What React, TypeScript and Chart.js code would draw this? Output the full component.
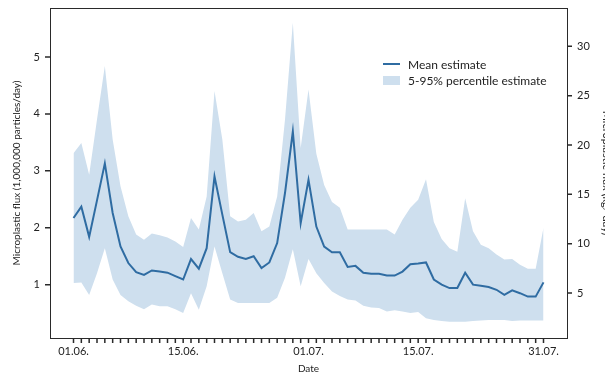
import React, { useEffect, useRef } from 'react';
import { Chart, registerables } from 'chart.js';

Chart.register(...registerables);

// Day index 0 = 01.06., 60 = 31.07.
const meanEstimate = [
  2.17, 2.37, 1.84, 2.48, 3.13, 2.26, 1.67, 1.38, 1.22, 1.17,
  1.25, 1.23, 1.21, 1.15, 1.09, 1.45, 1.28, 1.64, 2.90, 2.23,
  1.57, 1.49, 1.45, 1.50, 1.29, 1.39, 1.73, 2.61, 3.69, 2.08,
  2.84, 2.02, 1.67, 1.57, 1.57, 1.31, 1.33, 1.21, 1.19, 1.19,
  1.16, 1.16, 1.23, 1.36, 1.37, 1.39, 1.09, 1.00, 0.94, 0.94,
  1.21, 1.00, 0.98, 0.96, 0.91, 0.82, 0.90, 0.85, 0.79, 0.79,
  1.04,
];

const upper95 = [
  3.31, 3.49, 2.93, 3.90, 4.84, 3.55, 2.73, 2.20, 1.88, 1.79,
  1.90, 1.87, 1.83, 1.76, 1.66, 2.17, 1.97, 2.55, 4.40, 3.55,
  2.20, 2.11, 2.14, 2.26, 1.94, 2.02, 2.55, 3.90, 5.60, 3.40,
  4.43, 3.30, 2.75, 2.45, 2.35, 1.97, 1.97, 1.97, 1.97, 1.97,
  1.97, 1.88, 2.14, 2.35, 2.49, 2.85, 2.10, 1.80, 1.64, 1.58,
  2.52, 1.94, 1.70, 1.64, 1.53, 1.44, 1.45, 1.35, 1.28, 1.28,
  2.00,
];

const lower5 = [
  1.03, 1.04, 0.82, 1.20, 1.64, 1.09, 0.82, 0.71, 0.63, 0.57,
  0.65, 0.62, 0.62, 0.57, 0.50, 0.85, 0.56, 0.97, 1.67, 1.20,
  0.74, 0.68, 0.68, 0.68, 0.68, 0.68, 0.77, 1.12, 1.62, 0.97,
  1.45, 1.20, 1.03, 0.88, 0.80, 0.74, 0.72, 0.63, 0.60, 0.59,
  0.53, 0.55, 0.53, 0.50, 0.52, 0.41, 0.38, 0.36, 0.35, 0.35,
  0.35, 0.36, 0.37, 0.38, 0.38, 0.38, 0.36, 0.37, 0.37, 0.37,
  0.37,
];

const xTickDays = [0, 14, 30, 44, 60];
const xTickLabels = ['01.06.', '15.06.', '01.07.', '15.07.', '31.07.'];
const leftTicks = [1, 2, 3, 4, 5];
const rightTicks = [5, 10, 15, 20, 25, 30];
const legendLabels = ['Mean estimate', '5-95% percentile estimate'];

const FONT = 'Lato, "Open Sans", sans-serif';
const LINE_COLOR = 'rgb(47,108,162)';
const BAND_COLOR = 'rgb(206,223,238)';
const AXIS_COLOR = '#2a2a2a';
const TEXT_COLOR = '#222222';
const TICK_LEN = 5;

const legendPlugin = {
  id: 'customLegend',
  afterDraw(chart: any) {
    const { ctx, chartArea } = chart;
    const x0 = chartArea.right - 184;
    const y0 = chartArea.top + 56;
    ctx.save();
    ctx.strokeStyle = LINE_COLOR;
    ctx.lineWidth = 2;
    ctx.beginPath();
    ctx.moveTo(x0, y0);
    ctx.lineTo(x0 + 17, y0);
    ctx.stroke();
    ctx.fillStyle = BAND_COLOR;
    ctx.fillRect(x0, y0 + 12, 17, 9);
    ctx.fillStyle = TEXT_COLOR;
    ctx.font = `12px ${FONT}`;
    ctx.textBaseline = 'middle';
    ctx.textAlign = 'left';
    ctx.fillText(legendLabels[0], x0 + 25, y0 + 1);
    ctx.fillText(legendLabels[1], x0 + 25, y0 + 17);
    ctx.restore();
  },
};

// Outward tick marks drawn at each scale tick through the scales' own pixel mapping.
const tickMarksPlugin = {
  id: 'tickMarks',
  afterDraw(chart: any) {
    const { ctx, chartArea, scales } = chart;
    ctx.save();
    ctx.strokeStyle = AXIS_COLOR;
    ctx.lineWidth = 1.5;
    ctx.beginPath();
    const sx = scales.x;
    sx.ticks.forEach((t: any) => {
      const px = sx.getPixelForValue(t.value);
      ctx.moveTo(px, chartArea.bottom);
      ctx.lineTo(px, chartArea.bottom + TICK_LEN);
    });
    const sy = scales.y;
    sy.ticks.forEach((t: any) => {
      const py = sy.getPixelForValue(t.value);
      ctx.moveTo(chartArea.left - TICK_LEN, py);
      ctx.lineTo(chartArea.left, py);
    });
    const sy1 = scales.y1;
    sy1.ticks.forEach((t: any) => {
      const py = sy1.getPixelForValue(t.value);
      ctx.moveTo(chartArea.right, py);
      ctx.lineTo(chartArea.right + TICK_LEN, py);
    });
    ctx.stroke();
    ctx.restore();
  },
};

const noPad = (s: any) => {
  s.paddingTop = 0;
  s.paddingBottom = 0;
};

export default function App() {
  const ref = useRef<HTMLCanvasElement | null>(null);

  useEffect(() => {
    if (!ref.current) return;
    const toPts = (arr: number[]) => arr.map((v, i) => ({ x: i, y: v }));
    const font = { family: FONT, size: 11 };
    const tickGrid = {
      display: true,
      drawOnChartArea: false,
      drawTicks: true,
      tickLength: TICK_LEN,
      color: 'rgba(0,0,0,0)',
    };
    const chart = new Chart(ref.current, {
      type: 'line',
      data: {
        datasets: [
          {
            label: legendLabels[0],
            data: toPts(meanEstimate),
            borderColor: LINE_COLOR,
            borderWidth: 2,
            pointRadius: 0,
            fill: false,
            tension: 0,
            yAxisID: 'y',
            xAxisID: 'x',
          },
          {
            label: 'upper',
            data: toPts(upper95),
            borderWidth: 0,
            borderColor: 'rgba(0,0,0,0)',
            backgroundColor: BAND_COLOR,
            pointRadius: 0,
            fill: '+1',
            tension: 0,
            yAxisID: 'y',
            xAxisID: 'x',
          },
          {
            label: 'lower',
            data: toPts(lower5),
            borderWidth: 0,
            borderColor: 'rgba(0,0,0,0)',
            backgroundColor: BAND_COLOR,
            pointRadius: 0,
            fill: false,
            tension: 0,
            yAxisID: 'y',
            xAxisID: 'x',
          },
        ],
      },
      options: {
        animation: false,
        responsive: false,
        maintainAspectRatio: false,
        devicePixelRatio: 1,
        layout: { padding: 0 },
        plugins: {
          legend: { display: false },
          tooltip: { enabled: false },
        },
        scales: {
          x: {
            type: 'linear',
            position: 'bottom',
            min: -3,
            max: 63,
            afterBuildTicks: (s: any) => {
              s.ticks = meanEstimate.map((_, i) => ({ value: i }));
            },
            afterFit: (s: any) => {
              s.height = 38;
            },
            ticks: {
              autoSkip: false,
              maxRotation: 0,
              padding: 2,
              color: TEXT_COLOR,
              font,
              callback: (v: any) => {
                const k = xTickDays.indexOf(Number(v));
                return k >= 0 ? xTickLabels[k] : '';
              },
            },
            grid: tickGrid,
            border: { display: true, color: AXIS_COLOR, width: 1 },
            title: {
              display: true,
              text: 'Date',
              color: TEXT_COLOR,
              font: { family: FONT, size: 10 },
              padding: { top: 0, bottom: 1 },
            },
          },
          xTop: {
            type: 'linear',
            position: 'top',
            min: -3,
            max: 63,
            afterFit: (s: any) => {
              s.height = 8;
            },
            ticks: { display: false },
            grid: { display: false },
            border: { display: true, color: AXIS_COLOR, width: 1 },
          },
          y: {
            type: 'linear',
            position: 'left',
            min: 0.063,
            max: 5.86,
            afterBuildTicks: (s: any) => {
              s.ticks = leftTicks.map((v) => ({ value: v }));
            },
            afterFit: (s: any) => {
              s.width = 50;
              noPad(s);
            },
            ticks: { color: TEXT_COLOR, font, padding: 5 },
            grid: tickGrid,
            border: { display: true, color: AXIS_COLOR, width: 1 },
            title: {
              display: true,
              text: 'Microplastic flux (1,000,000 particles/day)',
              color: TEXT_COLOR,
              font: { family: FONT, size: 10 },
              padding: { top: 11, bottom: 0 },
            },
          },
          y1: {
            type: 'linear',
            position: 'right',
            min: 0.44,
            max: 33.88,
            afterBuildTicks: (s: any) => {
              s.ticks = rightTicks.map((v) => ({ value: v }));
            },
            afterFit: (s: any) => {
              s.width = 48;
              noPad(s);
            },
            ticks: { color: TEXT_COLOR, font, padding: 5 },
            grid: tickGrid,
            border: { display: true, color: AXIS_COLOR, width: 1 },
            title: {
              display: true,
              text: 'Microplastic flux (kg/ day)',
              color: TEXT_COLOR,
              font: { family: FONT, size: 11 },
              padding: { top: 2, bottom: 0 },
            },
          },
        },
      },
      plugins: [legendPlugin, tickMarksPlugin],
    } as any);
    return () => chart.destroy();
  }, []);

  return (
    <div
      style={{
        position: 'fixed',
        left: 0,
        top: 0,
        width: 605,
        height: 376,
        overflow: 'hidden',
        background: '#ffffff',
      }}
    >
      <canvas ref={ref} width={615} height={376} style={{ display: 'block' }} />
    </div>
  );
}
